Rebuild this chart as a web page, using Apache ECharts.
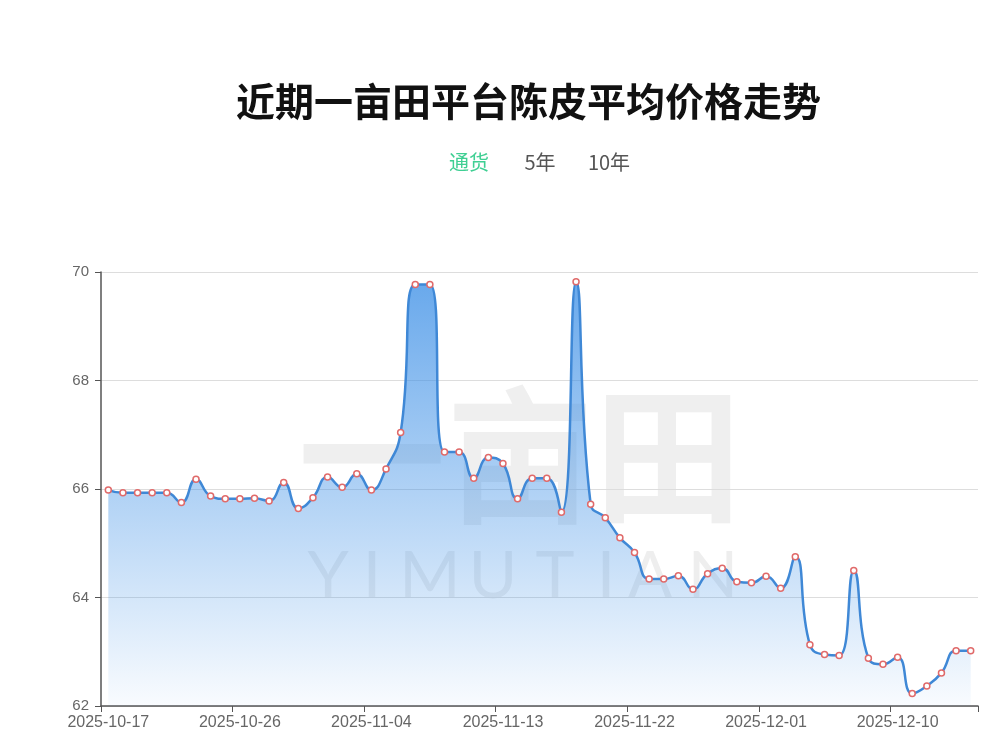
<!DOCTYPE html>
<html>
<head>
<meta charset="utf-8">
<script src="https://cdn.jsdelivr.net/npm/echarts@6/dist/echarts.min.js"></script>
<style>
  html, body { margin: 0; padding: 0; background: #fff; }
  #chart { width: 1000px; height: 755px; }
</style>
</head>
<body>
<div id="chart"></div>
<script>
// ---- data ----
const titleText = '近期一亩田平台陈皮平均价格走势';
const tabLabels = ['通货', '5年', '10年'];
const dates = [
  '2025-10-17','2025-10-18','2025-10-19','2025-10-20','2025-10-21','2025-10-22','2025-10-23','2025-10-24','2025-10-25','2025-10-26',
  '2025-10-27','2025-10-28','2025-10-29','2025-10-30','2025-10-31','2025-11-01','2025-11-02','2025-11-03','2025-11-04','2025-11-05',
  '2025-11-06','2025-11-07','2025-11-08','2025-11-09','2025-11-10','2025-11-11','2025-11-12','2025-11-13','2025-11-14','2025-11-15',
  '2025-11-16','2025-11-17','2025-11-18','2025-11-19','2025-11-20','2025-11-21','2025-11-22','2025-11-23','2025-11-24','2025-11-25',
  '2025-11-26','2025-11-27','2025-11-28','2025-11-29','2025-11-30','2025-12-01','2025-12-02','2025-12-03','2025-12-04','2025-12-05',
  '2025-12-06','2025-12-07','2025-12-08','2025-12-09','2025-12-10','2025-12-11','2025-12-12','2025-12-13','2025-12-14','2025-12-15'
];
const prices = [
  65.98, 65.93, 65.93, 65.93, 65.93, 65.75, 66.18, 65.87, 65.82, 65.82,
  65.83, 65.78, 66.12, 65.64, 65.84, 66.22, 66.03, 66.28, 65.98, 66.37,
  67.04, 69.77, 69.77, 66.68, 66.68, 66.20, 66.58, 66.47, 65.82, 66.20,
  66.20, 65.57, 69.82, 65.72, 65.47, 65.10, 64.83, 64.34, 64.34, 64.40,
  64.15, 64.44, 64.54, 64.29, 64.27, 64.39, 64.17, 64.75, 63.13, 62.95,
  62.93, 64.50, 62.88, 62.77, 62.90, 62.23, 62.37, 62.61, 63.02, 63.02
];
const yMin = 62, yMax = 70, yStep = 2;

// ---- watermark (decorative) ----
const wmLetters = 'YIMUTIAN'.split('');
const wmX = [328, 372, 430, 493, 555, 606, 650, 713];
const graphics = [
  { type: 'text', x: 520, y: 455, z: 0, silent: true,
    style: { text: '一亩田', fontSize: 148, fontWeight: 'bold', fontFamily: 'Noto Sans CJK SC',
             fill: '#efefef', align: 'center', verticalAlign: 'middle' } }
];
wmLetters.forEach((ch, i) => graphics.push({
  type: 'text', x: wmX[i], y: 577, z: 0, silent: true,
  style: { text: ch, fontSize: 66, fontWeight: 'normal', fontFamily: 'Lato, Noto Sans, sans-serif',
           fill: '#eeeeee', align: 'center', verticalAlign: 'middle' }
}));
// tabs
const tabX = [469, 540, 609];
const tabColors = ['#3fcf93', '#555555', '#555555'];
tabLabels.forEach((t, i) => graphics.push({
  type: 'text', x: tabX[i], y: 162, z: 10,
  style: { text: t, fontSize: 20, fontFamily: 'Noto Sans CJK SC', fill: tabColors[i],
           align: 'center', verticalAlign: 'middle' }
}));

const chart = echarts.init(document.getElementById('chart'));
chart.setOption({
  animation: false,
  backgroundColor: '#ffffff',
  title: {
    text: titleText,
    left: 231, top: 77,
    textStyle: { fontSize: 39, fontWeight: 'bold', color: '#111111', fontFamily: 'Noto Sans CJK SC' }
  },
  graphic: graphics,
  grid: { left: 101, right: 22, top: 272, bottom: 49, containLabel: false, outerBoundsMode: 'none' },
  xAxis: {
    type: 'category',
    data: dates,
    boundaryGap: true,
    axisLine: { show: true, lineStyle: { color: '#555555', width: 1.5 } },
    axisTick: { show: true, interval: 8, length: 6, lineStyle: { color: '#555555' } },
    axisLabel: { interval: 8, color: '#666666', fontSize: 16, margin: 9, fontFamily: 'Liberation Sans, Arial, sans-serif' },
    splitLine: { show: false }
  },
  yAxis: {
    type: 'value',
    min: yMin, max: yMax, interval: yStep,
    axisLine: { show: true, lineStyle: { color: '#555555', width: 1.5 } },
    axisTick: { show: true, length: 6, lineStyle: { color: '#555555' } },
    axisLabel: { color: '#666666', fontSize: 15, margin: 12, fontFamily: 'Liberation Sans, Arial, sans-serif' },
    splitLine: { show: true, lineStyle: { color: '#dddddd', width: 1.2 } }
  },
  series: [{
    type: 'line',
    data: prices,
    smooth: true,
    z: 5,
    symbol: 'circle',
    symbolSize: 6,
    showAllSymbol: true,
    lineStyle: { color: '#3f88d6', width: 2.5 },
    itemStyle: { color: '#ffffff', borderColor: '#e06a6a', borderWidth: 1.5 },
    areaStyle: {
      opacity: 1,
      color: new echarts.graphic.LinearGradient(0, 272, 0, 706, [
        { offset: 0, color: 'rgba(58,142,230,0.78)' },
        { offset: 1, color: 'rgba(58,142,230,0.03)' }
      ], true)
    }
  }]
});
</script>
</body>
</html>
